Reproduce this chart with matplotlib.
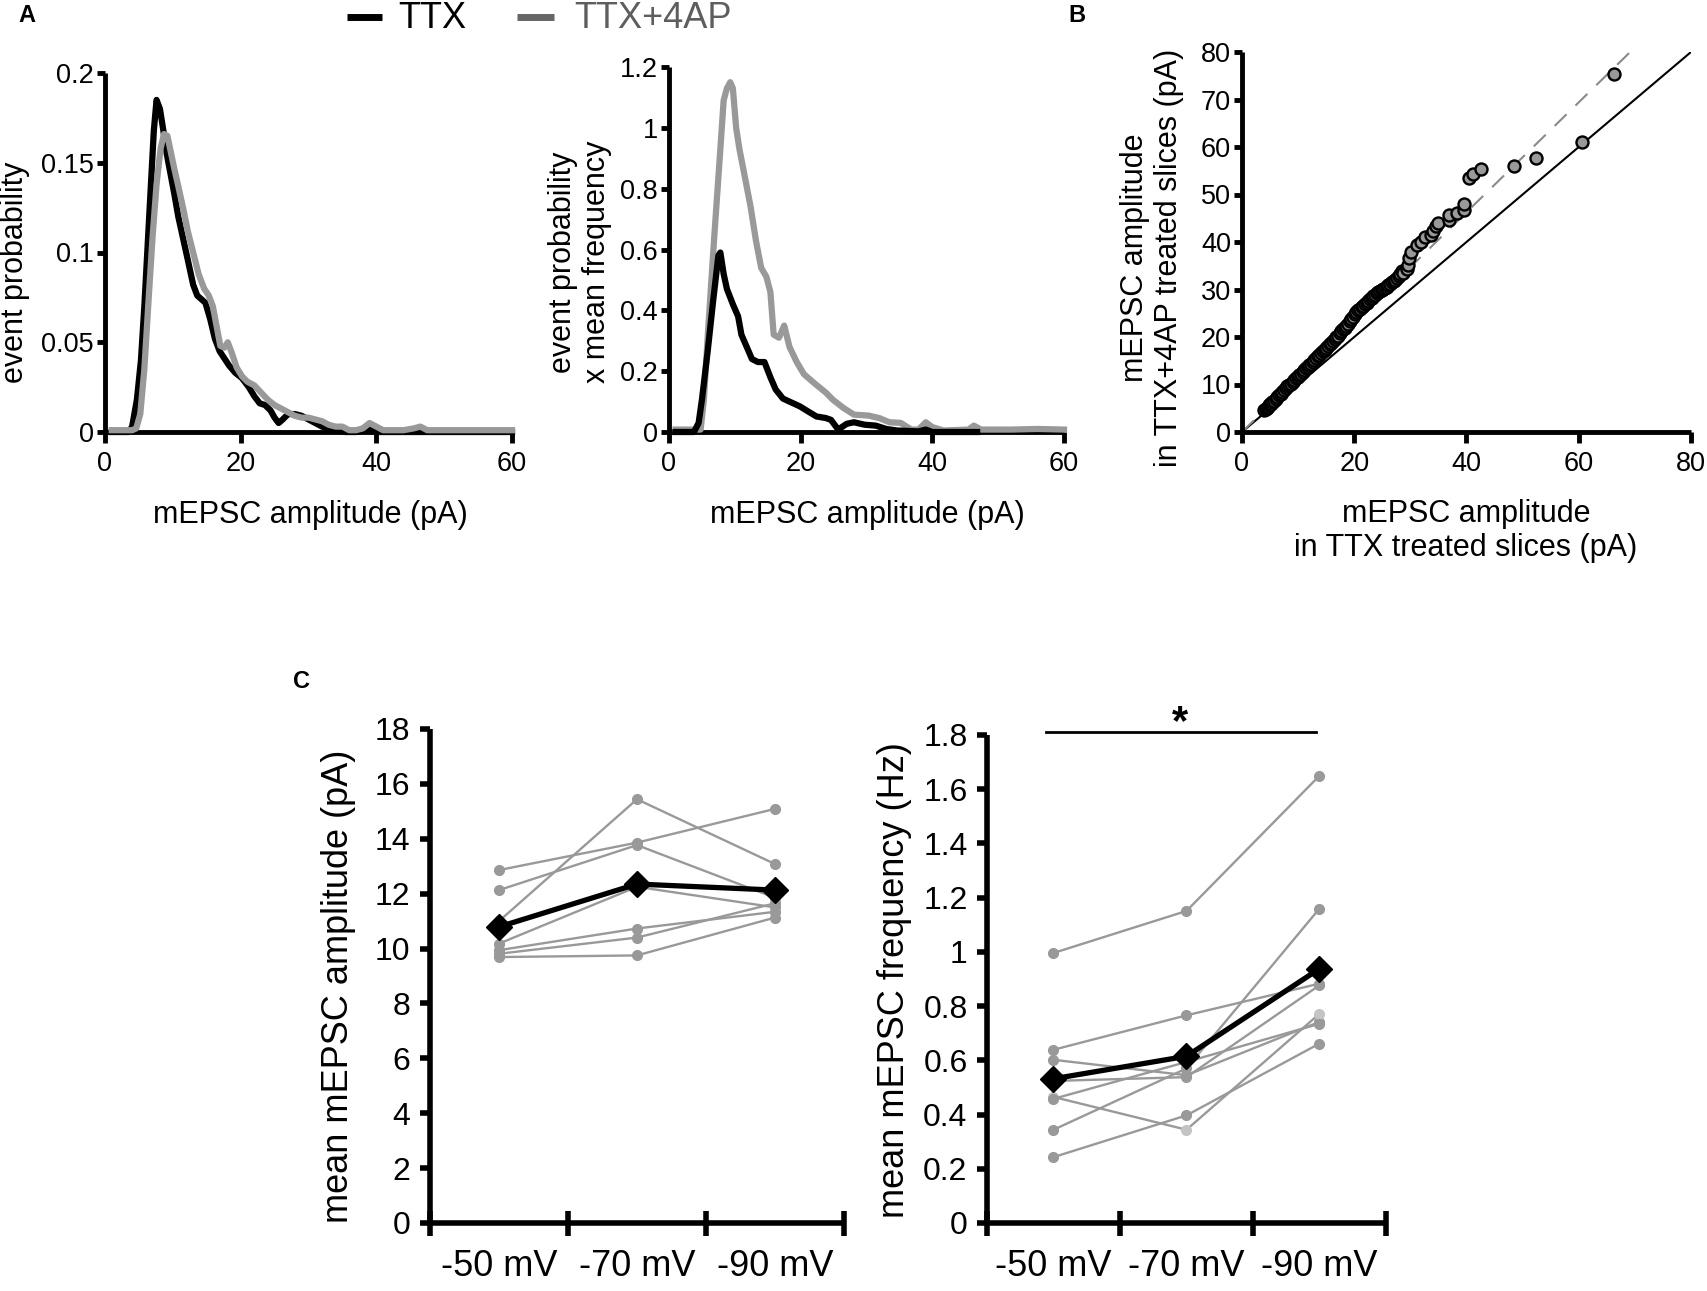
import matplotlib
matplotlib.use("Agg")
import matplotlib.pyplot as plt
from matplotlib.lines import Line2D
import numpy as np

plt.rcParams['font.family'] = ['Liberation Sans', 'DejaVu Sans']

# ---- panel A: amplitude distributions ----
a1_ttx_x = [1, 3.5, 4.0, 4.7, 5.3, 5.8, 6.3, 6.8, 7.2, 7.6, 8.1, 8.6, 9.1, 9.6, 10.2, 10.8,
            11.5, 12.2, 13.0, 13.6, 14.2, 14.8, 15.5, 16.2, 16.9, 17.6, 18.3, 19.2, 20.2,
            21.2, 22.0, 22.8, 23.6, 24.4, 25.0, 25.6, 26.2, 27.0, 28.0, 29.0, 30.0, 31.0,
            32.0, 33.0, 34.0, 35.5, 37.0, 38.5, 39.3, 40.2, 42, 50, 60]
a1_ttx_y = [0, 0, 0.003, 0.018, 0.040, 0.070, 0.105, 0.140, 0.168, 0.185, 0.180, 0.168,
            0.155, 0.145, 0.133, 0.120, 0.108, 0.096, 0.082, 0.076, 0.074, 0.072, 0.063,
            0.052, 0.045, 0.041, 0.037, 0.033, 0.030, 0.025, 0.020, 0.016, 0.015, 0.012,
            0.008, 0.005, 0.007, 0.010, 0.010, 0.009, 0.007, 0.005, 0.003, 0.002, 0.001,
            0.0, 0.0, 0.001, 0.002, 0.0, 0.0, 0.0, 0.0]
a1_4ap_x = [1, 4.0, 4.6, 5.2, 5.8, 6.4, 7.0, 7.6, 8.2, 8.7, 9.2, 9.7, 10.2, 10.8, 11.5, 12.2,
            13.0, 13.8, 14.6, 15.3, 15.9, 16.4, 17.0, 17.6, 18.1, 18.7, 19.4, 20.2, 21.0,
            22.0, 23.0, 24.0, 25.0, 26.0, 27.0, 28.0, 29.0, 30.0, 31.0, 32.0, 33.0, 34.0,
            35.0, 36.0, 37.0, 38.0, 39.0, 40.0, 41.0, 42.5, 44.0, 45.5, 46.5, 47.5, 49, 52,
            55, 58, 60]
a1_4ap_y = [0.001, 0.001, 0.002, 0.010, 0.035, 0.072, 0.108, 0.138, 0.158, 0.166, 0.165,
            0.156, 0.147, 0.137, 0.125, 0.112, 0.100, 0.088, 0.080, 0.076, 0.070, 0.060,
            0.048, 0.047, 0.050, 0.044, 0.036, 0.031, 0.028, 0.026, 0.022, 0.018, 0.015,
            0.013, 0.011, 0.009, 0.008, 0.008, 0.007, 0.006, 0.004, 0.003, 0.003, 0.001,
            0.001, 0.002, 0.005, 0.003, 0.001, 0.001, 0.001, 0.002, 0.003, 0.001, 0.001,
            0.001, 0.001, 0.001, 0.001]

a2_ttx_x = [1, 3.8, 4.5, 5.0, 5.9, 6.7, 7.5, 7.8, 8.3, 8.8, 9.7, 10.5, 11.0, 11.8, 12.6,
            13.5, 14.5, 15.4, 16.2, 17.3, 18.3, 19.9, 21.1, 22.4, 23.8, 24.6, 25.7, 27.0,
            28.1, 29.7, 31.4, 33.0, 34.6, 37.9, 39.0, 40.0, 46.8]
a2_ttx_y = [0, 0, 0.03, 0.106, 0.27, 0.43, 0.58, 0.59, 0.52, 0.47, 0.42, 0.38, 0.32, 0.28,
            0.24, 0.23, 0.23, 0.18, 0.14, 0.11, 0.10, 0.084, 0.068, 0.051, 0.046, 0.040,
            0.008, 0.027, 0.032, 0.024, 0.021, 0.010, 0.005, 0.002, 0.008, 0.0, 0.0]
a2_4ap_x = [1, 4.2, 4.8, 5.3, 5.9, 6.9, 7.8, 8.3, 8.8, 9.3, 9.7, 10.2, 10.7, 11.6, 12.4,
            13.2, 14.0, 14.8, 15.4, 15.9, 16.7, 17.5, 18.3, 19.4, 20.5, 22.1, 23.8, 24.9,
            26.5, 28.1, 30.3, 31.9, 33.5, 35.2, 36.8, 37.9, 39.0, 40.0, 41.7, 45.5, 46.3,
            47.4, 52, 56, 60]
a2_4ap_y = [0.008, 0.008, 0.008, 0.106, 0.32, 0.65, 0.93, 1.09, 1.13, 1.15, 1.13, 1.00, 0.93,
            0.83, 0.74, 0.63, 0.54, 0.51, 0.46, 0.32, 0.31, 0.35, 0.28, 0.23, 0.19, 0.16,
            0.13, 0.106, 0.079, 0.057, 0.054, 0.046, 0.032, 0.030, 0.008, 0.008, 0.032,
            0.016, 0.005, 0.008, 0.021, 0.008, 0.008, 0.010, 0.008]

a1_yticks = [0, 0.05, 0.1, 0.15, 0.2]
a1_yticklabels = ['0', '0.05', '0.1', '0.15', '0.2']
a2_yticks = [0, 0.2, 0.4, 0.6, 0.8, 1.0, 1.2]
a2_yticklabels = ['0', '0.2', '0.4', '0.6', '0.8', '1', '1.2']
a_xticks = [0, 20, 40, 60]

# ---- panel B: quantile-quantile of amplitudes ----
b_ttx = [4.0, 4.2, 4.4, 4.6, 4.8, 5.0, 5.2, 5.4, 5.7, 6.0, 6.3, 6.6, 6.9, 7.2, 7.5, 7.8,
         8.1, 8.4, 8.7, 9.0, 9.3, 9.6, 9.9, 10.2, 10.5, 10.8, 11.1, 11.4, 11.7, 12.0, 12.3,
         12.6, 12.9, 13.2, 13.5, 13.8, 14.1, 14.4, 14.7, 15.0, 15.3, 15.6, 15.9, 16.2, 16.5,
         16.8, 17.1, 17.4, 17.7, 18.0, 18.3, 18.6, 18.9, 19.2, 19.5, 19.8, 20.1, 20.4, 20.7,
         21.0, 21.3, 21.6, 21.9, 22.2, 22.5, 22.8, 23.1, 23.4, 23.7, 24.0, 24.3, 24.6, 24.9,
         25.2, 25.5, 25.8, 26.1, 26.4, 26.7, 27.0, 27.3, 27.6, 27.9, 28.2, 28.5,
         28.6, 29.4, 29.5, 29.8, 30.2, 31.2, 31.9, 32.6, 33.6, 34.1, 34.6, 35.0, 36.9, 36.8,
         38.3, 39.5, 39.6, 40.4, 41.1, 42.6, 48.5, 52.3, 60.5, 66.3]
b_4ap = [4.7, 4.9, 5.1, 5.3, 5.6, 5.8, 6.0, 6.3, 6.6, 7.0, 7.3, 7.7, 8.1, 8.4, 8.8, 9.2,
         9.6, 9.9, 10.2, 10.6, 10.9, 11.3, 11.6, 12.0, 12.3, 12.7, 13.0, 13.4, 13.7, 14.1, 14.4,
         14.8, 15.2, 15.5, 15.9, 16.2, 16.6, 17.0, 17.3, 17.7, 18.1, 18.5, 18.8, 19.2, 19.6,
         19.9, 20.3, 20.8, 21.2, 21.6, 22.0, 22.4, 22.8, 23.3, 23.8, 24.3, 24.8, 25.3, 25.7,
         26.0, 26.3, 26.6, 26.9, 27.2, 27.6, 28.0, 28.3, 28.6, 28.9, 29.2, 29.4, 29.7, 29.9,
         30.1, 30.3, 30.6, 30.9, 31.2, 31.5, 31.8, 32.1, 32.5, 32.9, 33.3, 33.8,
         33.4, 34.3, 35.2, 36.6, 38.0, 39.4, 39.9, 41.0, 41.5, 42.3, 43.3, 44.1, 44.7, 45.7,
         46.2, 46.7, 48.0, 53.5, 54.3, 55.3, 56.0, 57.7, 61.1, 75.4]
b_identity = [0, 80]
b_fit_x = [0, 70.2]
b_fit_y = [0, 81.2]
b_xticks = [0, 20, 40, 60, 80]
b_yticks = [0, 10, 20, 30, 40, 50, 60, 70, 80]

# ---- panel C: holding potential ----
potentials = ['-50 mV', '-70 mV', '-90 mV']
amp_cells = [
    [12.86, 13.86, 15.09],
    [12.13, 13.77, 11.85],
    [11.00, 15.44, 13.08],
    [10.18, 12.25, 11.50],
    [9.94, 10.73, 11.34],
    [9.81, 10.40, 11.65],
    [9.69, 9.75, 11.13],
]
amp_mean = [10.79, 12.35, 12.13]
freq_cells = [
    [0.996, 1.151, 1.650],
    [0.639, 0.766, 0.883],
    [0.602, 0.545, 0.742],
    [0.524, 0.538, 0.877],
    [0.465, 0.344, 0.772],
    [0.458, 0.594, 0.735],
    [0.344, 0.570, 1.160],
    [0.243, 0.397, 0.662],
]
freq_light = 4   # the cell drawn with paler dots
freq_mean = [0.532, 0.615, 0.938]
amp_yticks = list(range(0, 19, 2))
freq_yticks = [0, 0.2, 0.4, 0.6, 0.8, 1.0, 1.2, 1.4, 1.6, 1.8]
freq_yticklabels = ['0', '0.2', '0.4', '0.6', '0.8', '1', '1.2', '1.4', '1.6', '1.8']

W, H = 1708, 1291
GRAY = '#999999'
fig = plt.figure(figsize=(W / 100, H / 100), dpi=100)


def rect(l, t, r, b):
    return [l / W, 1 - b / H, (r - l) / W, (b - t) / H]


def px(x, y):
    return x / W, 1 - y / H


def clean(ax, lw):
    ax.spines['top'].set_visible(False)
    ax.spines['right'].set_visible(False)
    ax.spines['left'].set_linewidth(lw)
    ax.spines['bottom'].set_linewidth(lw)
    ax.spines['left'].set_capstyle('butt')
    ax.spines['bottom'].set_capstyle('butt')


def ab_ticks(ax):
    clean(ax, 3.5)
    ax.tick_params(axis='both', direction='out', width=3.5, labelsize=19.5)
    ax.tick_params(axis='x', length=8, pad=6)
    ax.tick_params(axis='y', length=6, pad=2)


# A1
ax = fig.add_axes(rect(105, 73, 512, 432))
ax.plot(a1_ttx_x, a1_ttx_y, color='k', lw=4.5, zorder=3, clip_on=False)
ax.plot(a1_4ap_x, a1_4ap_y, color=GRAY, lw=4.5, zorder=3, clip_on=False)
ax.set_xlim(0, 60)
ax.set_ylim(0, 0.2)
ax.set_xticks(a_xticks)
ax.set_yticks(a1_yticks)
ax.set_yticklabels(a1_yticklabels)
ab_ticks(ax)

# A2
ax = fig.add_axes(rect(669, 67, 1064, 432))
ax.plot(a2_4ap_x, a2_4ap_y, color=GRAY, lw=4.5, zorder=3, clip_on=False)
ax.plot(a2_ttx_x, a2_ttx_y, color='k', lw=4.5, zorder=3, clip_on=False)
ax.set_xlim(0, 60)
ax.set_ylim(0, 1.2)
ax.set_xticks(a_xticks)
ax.set_yticks(a2_yticks)
ax.set_yticklabels(a2_yticklabels)
ab_ticks(ax)

# B
ax = fig.add_axes(rect(1242, 52, 1691, 432))
ax.plot(b_identity, b_identity, color='k', lw=1.5, zorder=2)
ax.plot(b_fit_x, b_fit_y, color='#8a8a8a', lw=1.5, dashes=(8, 6), zorder=2, clip_on=False)
ax.scatter(b_ttx, b_4ap, s=75, facecolor=GRAY, edgecolor='k', linewidths=1.7, zorder=3,
           clip_on=False)
ax.set_xlim(0, 80)
ax.set_ylim(0, 80)
ax.set_xticks(b_xticks)
ax.set_yticks(b_yticks)
ab_ticks(ax)


def c_panel(ax, cells, mean, light=None):
    pos = np.arange(len(potentials)) + 0.5
    for i, cell in enumerate(cells):
        mc = '#c4c4c4' if i == light else GRAY
        ax.plot(pos, cell, color=GRAY, lw=1.7, marker='o', ms=7, mfc=mc, mec=mc, zorder=3)
    ax.plot(pos, mean, color='k', lw=3.8, marker='D', ms=13, zorder=4, clip_on=False)
    ax.set_xlim(0, len(potentials))
    ax.set_xticks(np.arange(len(potentials) + 1))
    ax.set_xticklabels([])
    ax.set_xticks(pos, minor=True)
    ax.set_xticklabels(potentials, minor=True)
    clean(ax, 4)
    ax.tick_params(axis='x', which='major', direction='inout', length=18, width=4)
    ax.tick_params(axis='x', which='minor', length=0, pad=19, labelsize=26)
    ax.tick_params(axis='y', direction='out', length=7, width=4, labelsize=23, pad=7)
    return pos


ax = fig.add_axes(rect(430, 729, 844, 1223))
c_panel(ax, amp_cells, amp_mean)
ax.set_ylim(0, 18)
ax.set_yticks(amp_yticks)

ax = fig.add_axes(rect(987, 735, 1386, 1223))
pos = c_panel(ax, freq_cells, freq_mean, light=freq_light)
ax.set_ylim(0, 1.8)
ax.set_yticks(freq_yticks)
ax.set_yticklabels(freq_yticklabels)
ax.plot([pos[0] - 0.06, pos[-1] - 0.03], [1.81, 1.81], color='k', lw=2, clip_on=False)
ax.text((pos[0] + pos[-1]) / 2 - 0.05, 1.845, '*', ha='center', va='center',
        fontsize=30, fontweight='bold')

# axis labels
LAB = 22
fig.text(*px(15, 272), 'event probability', rotation=90, ha='center', va='center', fontsize=LAB)
fig.text(*px(310, 515), 'mEPSC amplitude (pA)', ha='center', va='center', fontsize=LAB)
fig.text(*px(580, 262), 'event probability\nx mean frequency', rotation=90, ha='center',
         va='center', fontsize=LAB)
fig.text(*px(867, 515), 'mEPSC amplitude (pA)', ha='center', va='center', fontsize=LAB)
fig.text(*px(1152, 258), 'mEPSC amplitude\nin TTX+4AP treated slices (pA)', rotation=90,
         ha='center', va='center', fontsize=LAB)
fig.text(*px(1466, 531), 'mEPSC amplitude\nin TTX treated slices (pA)', ha='center',
         va='center', fontsize=LAB)
fig.text(*px(339, 986), 'mean mEPSC amplitude (pA)', rotation=90, ha='center', va='center',
         fontsize=26)
fig.text(*px(895, 980), 'mean mEPSC frequency (Hz)', rotation=90, ha='center', va='center',
         fontsize=26)

# panel letters
for letter, (x, y) in [('A', (27, 15)), ('B', (1077, 15)), ('C', (302, 682))]:
    fig.text(*px(x, y), letter, ha='center', va='center', fontsize=17, fontweight='bold')

# legend
fig.add_artist(Line2D([347 / W, 382 / W], [1 - 17 / H] * 2, transform=fig.transFigure,
                      color='k', lw=5, solid_capstyle='butt'))
fig.text(*px(398, 18), 'TTX', ha='left', va='center', fontsize=26)
fig.add_artist(Line2D([517 / W, 554 / W], [1 - 17 / H] * 2, transform=fig.transFigure,
                      color='#666666', lw=5, solid_capstyle='butt'))
fig.text(*px(574, 18), 'TTX+4AP', ha='left', va='center', fontsize=26, color='#5e5e5e')

fig.savefig('out.png', dpi=100)
